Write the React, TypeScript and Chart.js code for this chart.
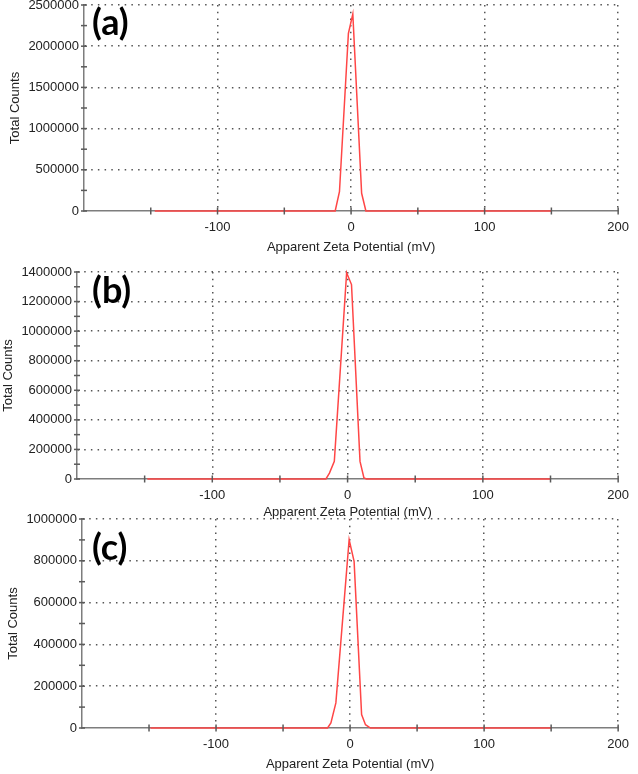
import React, { useEffect, useRef } from 'react';
import { Chart, registerables } from 'chart.js';

Chart.register(...registerables);

// ---- data ----
const potentialA = [-147, -11.9, -8.7, -2.0, 1.3, 7.9, 11.1, 150];
const countsA = [0, 0, 234000, 2157000, 2390000, 215000, 0, 0];

const potentialB = [-148, -16, -13.4, -9.8, -0.7, 2.9, 9.2, 12.1, 14, 150];
const countsB = [0, 0, 40000, 119000, 1395000, 1315000, 119000, 7000, 0, 0];

const potentialC = [-149, -16.8, -14.3, -10.6, -0.7, 3.0, 8.6, 11.5, 15.2, 150];
const countsC = [0, 0, 24000, 120000, 901000, 797000, 64000, 16000, 0, 0];

const panelLabels = ['(a)', '(b)', '(c)'];
const xLabelValues = [-100, 0, 100, 200];
const xRange = [-200, 200];
const xStep = 50;
const yMaxes = [2500000, 1400000, 1000000];
const yMinorSteps = [250000, 100000, 100000];
const yLabelSteps = [500000, 200000, 200000];
const xTitle = 'Apparent Zeta Potential (mV)';
const yTitle = 'Total Counts';

// ---- layout (pixels) ----
const layouts = [
  { canvasTop: -10, chartH: 206, axisH: 44, axisX: 84, padRight: 14, yTitlePad: 7.4, labelTop: 3 },
  { canvasTop: 257, chartH: 207, axisH: 41, axisX: 77, padRight: 13, yTitlePad: 0.5, labelTop: 271 },
  { canvasTop: 504, chartH: 209, axisH: 44, axisX: 82, padRight: 15, yTitlePad: 5.5, labelTop: 528 },
];
const PAD_TOP = 15;
const W = 638;

const FONT = 'Liberation Sans, Arial, sans-serif';
const GRID_DOT = '#555';
const AXIS_GRAY = '#7d7d7d';

const crossTicks = {
  id: 'crossTicks',
  afterDraw(chart: any) {
    const { ctx, scales } = chart;
    const x = scales.x;
    const y = scales.y;
    ctx.save();
    ctx.strokeStyle = '#5a5a5a';
    ctx.lineWidth = 1.5;
    x.ticks.forEach((t: any) => {
      if (t.value === xRange[0]) return;
      const px = x.getPixelForValue(t.value);
      ctx.beginPath();
      ctx.moveTo(px, y.bottom - 3.5);
      ctx.lineTo(px, y.bottom + 3.5);
      ctx.stroke();
    });
    y.ticks.forEach((t: any) => {
      const py = y.getPixelForValue(t.value);
      ctx.beginPath();
      ctx.moveTo(x.left - 3, py);
      ctx.lineTo(x.left + 3, py);
      ctx.stroke();
    });
    ctx.restore();
  },
};

function Panel({ idx, xs, ys }: { idx: number; xs: number[]; ys: number[] }) {
  const ref = useRef<HTMLCanvasElement | null>(null);
  const L = layouts[idx];
  const H = PAD_TOP + L.chartH + L.axisH;
  useEffect(() => {
    if (!ref.current) return;
    const labelStep = yLabelSteps[idx];
    const chart = new Chart(ref.current, {
      type: 'line',
      data: {
        datasets: [
          {
            data: xs.map((x, i) => ({ x, y: ys[i] })),
            borderColor: 'rgb(255,70,70)',
            borderWidth: 1.5,
            pointRadius: 0,
            tension: 0,
            fill: false,
            clip: 6,
          } as any,
        ],
      },
      options: {
        responsive: false,
        animation: false,
        devicePixelRatio: 1,
        layout: { padding: { top: PAD_TOP, left: 0, right: L.padRight, bottom: 0 } },
        plugins: { legend: { display: false }, tooltip: { enabled: false } },
        scales: {
          x: {
            type: 'linear',
            min: xRange[0],
            max: xRange[1],
            ticks: {
              stepSize: xStep,
              autoSkip: false,
              maxRotation: 0,
              padding: 9,
              color: '#222',
              font: { family: FONT, size: 13 },
              callback: (v: any) => (xLabelValues.includes(Number(v)) ? String(v) : ''),
            },
            grid: {
              drawTicks: false,
              lineWidth: 1.5,
              color: (c: any) =>
                c.tick && xLabelValues.includes(c.tick.value) ? GRID_DOT : 'rgba(0,0,0,0)',
            },
            border: { display: true, color: AXIS_GRAY, width: 1.5, dash: [1.5, 5.2] },
            title: {
              display: true,
              text: xTitle,
              color: '#222',
              font: { family: FONT, size: 13 },
              padding: { top: 0, bottom: 0 },
            },
            afterFit: (s: any) => {
              s.height = L.axisH;
            },
          },
          y: {
            type: 'linear',
            min: 0,
            max: yMaxes[idx],
            ticks: {
              stepSize: yMinorSteps[idx],
              autoSkip: false,
              padding: 5,
              color: '#222',
              font: { family: FONT, size: 13 },
              callback: (v: any) => (Number(v) % labelStep === 0 ? String(v) : ''),
            },
            grid: {
              drawTicks: false,
              lineWidth: 1.5,
              color: (c: any) =>
                c.tick && c.tick.value !== 0 && c.tick.value % labelStep === 0
                  ? GRID_DOT
                  : 'rgba(0,0,0,0)',
            },
            border: { display: true, color: AXIS_GRAY, width: 1.5, dash: [1.5, 5.2] },
            title: {
              display: true,
              text: yTitle,
              color: '#222',
              font: { family: FONT, size: 13 },
              padding: { top: L.yTitlePad, bottom: 0 },
            },
            afterFit: (s: any) => {
              s.width = L.axisX;
            },
          },
        },
      } as any,
      plugins: [crossTicks],
    });
    return () => chart.destroy();
  }, []);
  return (
    <>
      <canvas
        ref={ref}
        width={W}
        height={H}
        style={{ position: 'absolute', left: 0, top: L.canvasTop, width: W, height: H, display: 'block' }}
      />
      <div
        style={{
          position: 'absolute',
          left: 92,
          top: L.labelTop,
          fontFamily: 'Lato, sans-serif',
          fontWeight: 700,
          fontSize: 36,
          lineHeight: 1,
          color: '#000',
          whiteSpace: 'nowrap',
        }}
      >
        {panelLabels[idx]}
      </div>
    </>
  );
}

export default function App() {
  return (
    <div
      style={{
        position: 'absolute',
        left: 0,
        top: 0,
        width: W,
        height: 774,
        background: '#fff',
        overflow: 'hidden',
      }}
    >
      <Panel idx={0} xs={potentialA} ys={countsA} />
      <Panel idx={1} xs={potentialB} ys={countsB} />
      <Panel idx={2} xs={potentialC} ys={countsC} />
    </div>
  );
}
